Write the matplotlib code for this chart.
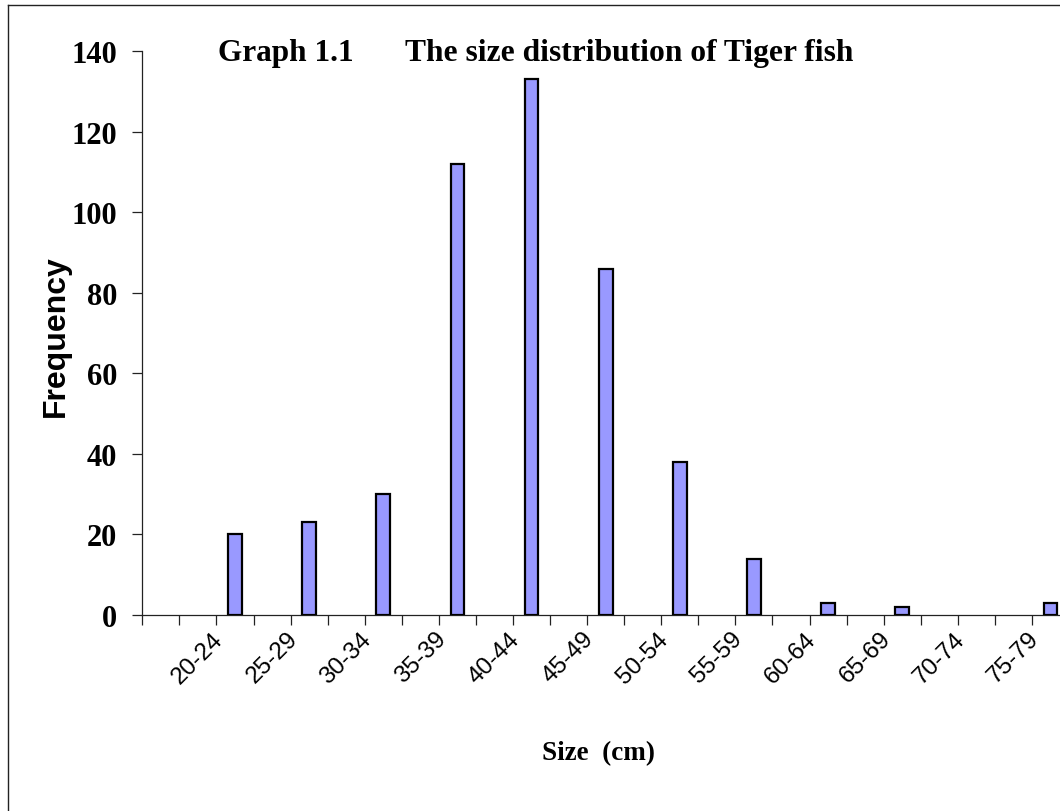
import matplotlib
matplotlib.use("Agg")
import matplotlib.pyplot as plt
from matplotlib.lines import Line2D
import numpy as np

# Size classes (cm) and the number of tiger fish caught in each
size_classes = ["20-24", "25-29", "30-34", "35-39", "40-44", "45-49",
                "50-54", "55-59", "60-64", "65-69", "70-74", "75-79"]
frequency = [20, 23, 30, 112, 133, 86, 38, 14, 3, 2, 0, 3]
y_ticks = [0, 20, 40, 60, 80, 100, 120, 140]

W, H, DPI = 1060, 812, 100
fig = plt.figure(figsize=(W / DPI, H / DPI), dpi=DPI)
fig.patch.set_facecolor("white")

# plot area in pixel terms (the right end runs past the page edge)
left_px, right_px, top_px, bottom_px = 142.3, 1069.0, 52.3, 616.0
ax = fig.add_axes([left_px / W, (H - bottom_px) / H,
                   (right_px - left_px) / W, (bottom_px - top_px) / H])
ax.set_facecolor("white")

n_slots = 2 * len(size_classes) + 1
idx = np.arange(len(size_classes))
label_pos = 2 * idx + 1.5
bar_pos = 2 * idx + 2.5

# empty classes get no outline, so nothing shows on the axis
edges = ["black" if v > 0 else "none" for v in frequency]
ax.bar(bar_pos, frequency, width=0.37, color="#9999FF",
       edgecolor=edges, linewidth=1.6, zorder=3)

ax.set_xlim(0, n_slots)
ax.set_ylim(0, 140)

for side in ("top", "right"):
    ax.spines[side].set_visible(False)
for side in ("left", "bottom"):
    ax.spines[side].set_linewidth(0.9)
    ax.spines[side].set_color("#222222")

ax.set_xticks(np.arange(0, n_slots + 1))
ax.set_xticklabels([])
ax.set_xticks(label_pos, minor=True)
ax.set_xticklabels(size_classes, minor=True, rotation=45, ha="center",
                   va="top", fontsize=17.5, family="Liberation Sans")
ax.tick_params(axis="x", which="major", direction="out", length=7,
               width=0.9, color="#222222")
ax.tick_params(axis="x", which="minor", length=0, pad=9)

ax.set_yticks(y_ticks)
ax.set_yticklabels([str(v) for v in y_ticks], fontsize=22,
                   family="Liberation Serif", fontweight="bold")
ax.tick_params(axis="y", direction="out", length=7, width=0.9,
               color="#222222", pad=11)

# titles and axis captions
fig.text(218 / W, 1 - 61 / H, "Graph 1.1", family="Liberation Serif",
         fontweight="bold", fontsize=22.5, ha="left", va="baseline")
fig.text(405 / W, 1 - 61 / H, "The size distribution of Tiger fish",
         family="Liberation Serif", fontweight="bold", fontsize=22.7,
         ha="left", va="baseline")
fig.text(56 / W, 1 - 336 / H, "Frequency", family="Liberation Sans",
         fontweight="bold", fontsize=23, rotation=90, ha="center",
         va="center")
fig.text(598 / W, 1 - 741 / H, "Size  (cm)", family="Liberation Serif",
         fontweight="bold", fontsize=19.5, ha="center", va="top")

# chart frame (left and top edges)
fig.add_artist(Line2D([8 / W, 8 / W], [0, 1 - 5.7 / H],
                      transform=fig.transFigure, color="#222222", lw=1.0))
fig.add_artist(Line2D([8 / W, 1.0], [1 - 5.7 / H, 1 - 5.7 / H],
                      transform=fig.transFigure, color="#222222", lw=1.0))

fig.savefig("out.png", dpi=DPI, facecolor="white")
